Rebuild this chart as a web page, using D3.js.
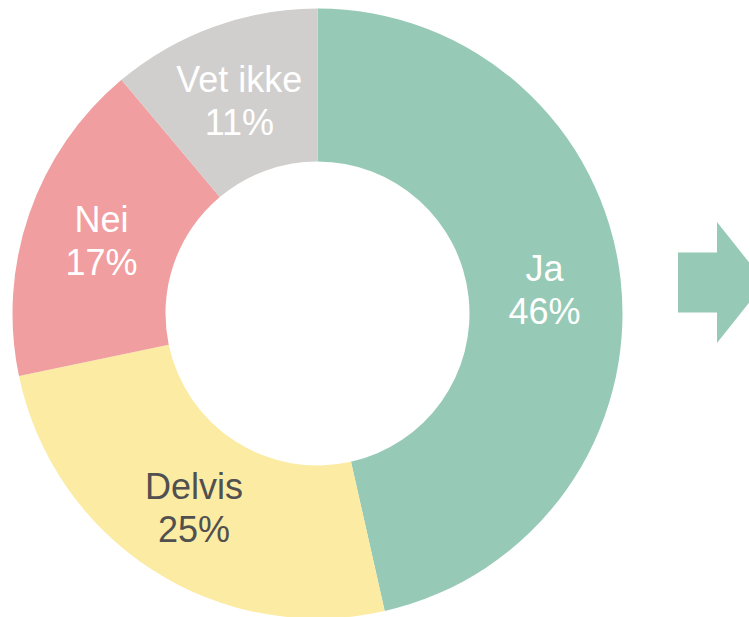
<!DOCTYPE html>
<html lang="no">

<head>
    <meta charset="UTF-8">
    <script src="https://cdn.jsdelivr.net/npm/d3@7"></script>
    <style>
        html, body {
            margin: 0;
            padding: 0;
            background: #ffffff;
        }
        svg {
            display: block;
        }
    </style>
    <title>Donut</title>
</head>

<body>
    <svg id="chart" width="749" height="617"></svg>
    <script>
        // data
        let categories = ["Ja", "Delvis", "Nei", "Vet ikke"];
        let values = [46, 25, 17, 11];
        let colors = ["#97cab6", "#fceba2", "#f09ea0", "#d0cfce"];
        let labelColors = ["#ffffff", "#505050", "#ffffff", "#ffffff"];

        let width = 749, height = 617;
        let cx = 317.5, cy = 313.5;
        let outerR = 305, innerR = 152;

        let svg = d3.select("#chart");
        let g = svg.append("g").attr("transform", "translate(" + cx + "," + cy + ")");

        let pie = d3.pie().sort(null).value(d => d.value);
        let arc = d3.arc().innerRadius(innerR).outerRadius(outerR);

        let rows = categories.map((c, i) => ({ name: c, value: values[i], color: colors[i], text: labelColors[i] }));
        let arcs = pie(rows);

        g.selectAll("path.slice")
            .data(arcs)
            .join("path")
            .attr("class", "slice")
            .attr("d", arc)
            .attr("fill", d => d.data.color);

        let labels = g.selectAll("text.lbl")
            .data(arcs)
            .join("text")
            .attr("class", "lbl")
            .attr("transform", d => "translate(" + arc.centroid(d) + ")")
            .attr("text-anchor", "middle")
            .attr("font-family", "'Liberation Sans', Arial, sans-serif")
            .attr("font-size", 36)
            .attr("fill", d => d.data.text);

        labels.append("tspan")
            .attr("x", 0)
            .attr("dy", "-0.2em")
            .text(d => d.data.name);

        labels.append("tspan")
            .attr("x", 0)
            .attr("dy", "1.2em")
            .text(d => d.data.value + "%");

        // arrow on the right, partly cut by the edge
        let arrowX = 678, arrowHeadX = 717, arrowTip = 765;
        let arrowMid = 282.5, shaftHalf = 30, headHalf = 60.5;
        let arrowPts = [
            [arrowX, arrowMid - shaftHalf],
            [arrowHeadX, arrowMid - shaftHalf],
            [arrowHeadX, arrowMid - headHalf],
            [arrowTip, arrowMid],
            [arrowHeadX, arrowMid + headHalf],
            [arrowHeadX, arrowMid + shaftHalf],
            [arrowX, arrowMid + shaftHalf]
        ];
        svg.append("path")
            .attr("d", d3.line()(arrowPts) + "Z")
            .attr("fill", colors[0]);
    </script>
</body>

</html>
